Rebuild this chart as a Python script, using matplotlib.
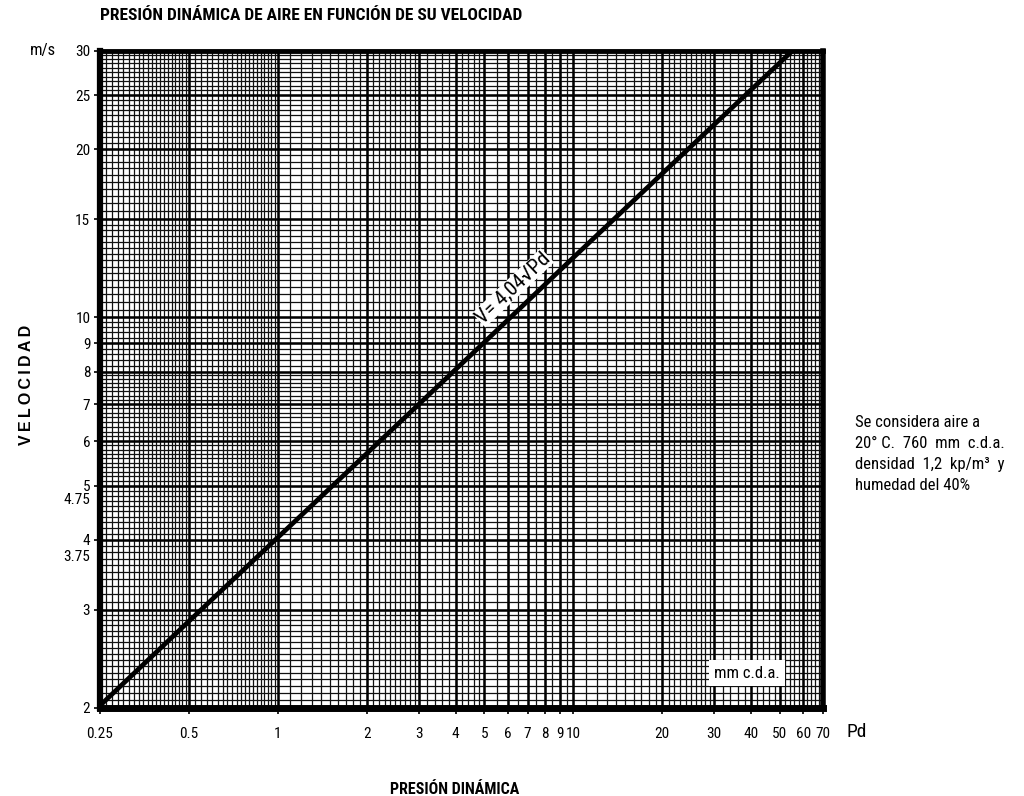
"""
Presion dinamica de aire en funcion de su velocidad (log-log chart).
"""

import matplotlib
matplotlib.use("Agg")
import matplotlib.pyplot as plt
import numpy as np
from matplotlib import font_manager

# readings of the V = 4,04 sqrt(Pd) line, taken off the chart
pd_line = [0.25, 0.5, 1, 2, 5, 10, 20, 55.1]
v_line = [2.02, 2.86, 4.04, 5.71, 9.03, 12.8, 18.1, 30.0]

x_ticks = [0.25, 0.5, 1, 2, 3, 4, 5, 6, 7, 8, 9, 10, 20, 30, 40, 50, 60, 70]
x_labels = ["0.25", "0.5", "1", "2", "3", "4", "5", "6", "7", "8", "9", "10",
            "20", "30", "40", "50", "60", "70"]
y_ticks = [2, 3, 4, 5, 6, 7, 8, 9, 10, 15, 20, 25, 30]
y_labels = ["2", "3", "4", "5", "6", "7", "8", "9", "10", "15", "20", "25", "30"]
y_extra = [3.75, 4.75]
y_extra_labels = ["3.75", "4.75"]

note_lines = ["Se considera aire a",
              "20° C.  760  mm  c.d.a.",
              "densidad  1,2  kp/m³  y",
              "humedad del 40%"]

installed = {f.name for f in font_manager.fontManager.ttflist}
NARROW = [f for f in ["Roboto Condensed", "Liberation Sans Narrow",
                      "Liberation Sans"] if f in installed] + ["DejaVu Sans"]
plt.rcParams["font.family"] = NARROW


def segments(parts):
    """Fine grid positions built from (start, stop, step) pieces."""
    out = []
    for a, b, s in parts:
        out.extend(np.arange(a, b + 1e-9, s))
    return np.unique(np.round(out, 5))


x_minor = segments([(0.25, 0.5, 0.0125), (0.5, 1, 0.025), (1, 3, 0.1),
                    (3, 5, 0.2), (5, 10, 0.5), (10, 30, 1), (30, 70, 2)])
y_minor = segments([(2, 3, 0.0625), (3, 6, 0.1), (6, 8, 0.125), (8, 10, 0.2),
                    (10, 15, 1 / 3), (15, 30, 0.5)])

fig = plt.figure(figsize=(10.24, 7.96), dpi=100)
ax = fig.add_axes([0.0977, 0.1106, 0.706, 0.8254])
ax.set_xscale("log")
ax.set_yscale("log")
ax.set_xlim(0.25, 70)
ax.set_ylim(2, 30)

# graph-paper grid
ax.vlines(x_minor, 2, 30, color="#111111", lw=0.9, zorder=1)
ax.hlines(y_minor, 0.25, 70, color="#111111", lw=0.9, zorder=1)
ax.vlines(x_ticks, 2, 30, color="black", lw=1.8, zorder=1)
ax.hlines(y_ticks, 0.25, 70, color="black", lw=1.8, zorder=1)

ax.plot(pd_line, v_line, color="black", lw=3.4, solid_capstyle="butt", zorder=3)

ax.xaxis.set_major_locator(matplotlib.ticker.FixedLocator(x_ticks))
ax.xaxis.set_major_formatter(matplotlib.ticker.FixedFormatter(x_labels))
ax.xaxis.set_minor_locator(matplotlib.ticker.NullLocator())
ax.yaxis.set_major_locator(matplotlib.ticker.FixedLocator(y_ticks))
ax.yaxis.set_major_formatter(matplotlib.ticker.FixedFormatter(y_labels))
ax.yaxis.set_minor_locator(matplotlib.ticker.FixedLocator(y_extra))
ax.yaxis.set_minor_formatter(matplotlib.ticker.FixedFormatter(y_extra_labels))
ax.tick_params(which="major", length=4, width=1.2, labelsize=11, pad=3)
ax.tick_params(axis="x", which="major", pad=10)
ax.tick_params(which="minor", length=0, labelsize=11, pad=7)

for side, w in [("left", 4.5), ("bottom", 5), ("top", 3.5), ("right", 4)]:
    ax.spines[side].set_linewidth(w)
    ax.spines[side].set_zorder(5)

ax.text(6.25, 11.3, "V= 4,04√Pd", rotation=43.4, ha="center", va="center",
        fontsize=15, zorder=4,
        bbox=dict(facecolor="white", edgecolor="none", pad=0.2))
ax.text(0.895, 0.053, "mm c.d.a.", transform=ax.transAxes, ha="center",
        va="center", fontsize=12, zorder=4,
        bbox=dict(facecolor="white", edgecolor="none", pad=4))

fig.text(100 / 1024, 1 - 16 / 796,
         "PRESIÓN DINÁMICA DE AIRE EN FUNCIÓN DE SU VELOCIDAD",
         ha="left", va="center", fontsize=12.5, fontweight="bold")
fig.text(30 / 1024, 1 - 51 / 796, "m/s", ha="left", va="center", fontsize=12)
fig.text(27 / 1024, 1 - 385 / 796, "\u2009".join("VELOCIDAD"), rotation=90,
         ha="center", va="center", fontsize=11.5, fontweight="bold",
         family=["Liberation Sans", "DejaVu Sans"])
fig.text(455 / 1024, 1 - 789 / 796, "PRESIÓN DINÁMICA", ha="center",
         va="center", fontsize=11.5, fontweight="bold")
fig.text(847 / 1024, 1 - 732 / 796, "Pd", ha="left", va="center", fontsize=14)
fig.text(855 / 1024, 1 - 415 / 796, "\n".join(note_lines), ha="left",
         va="top", fontsize=12, linespacing=1.5)

fig.savefig("out.png", dpi=100)
